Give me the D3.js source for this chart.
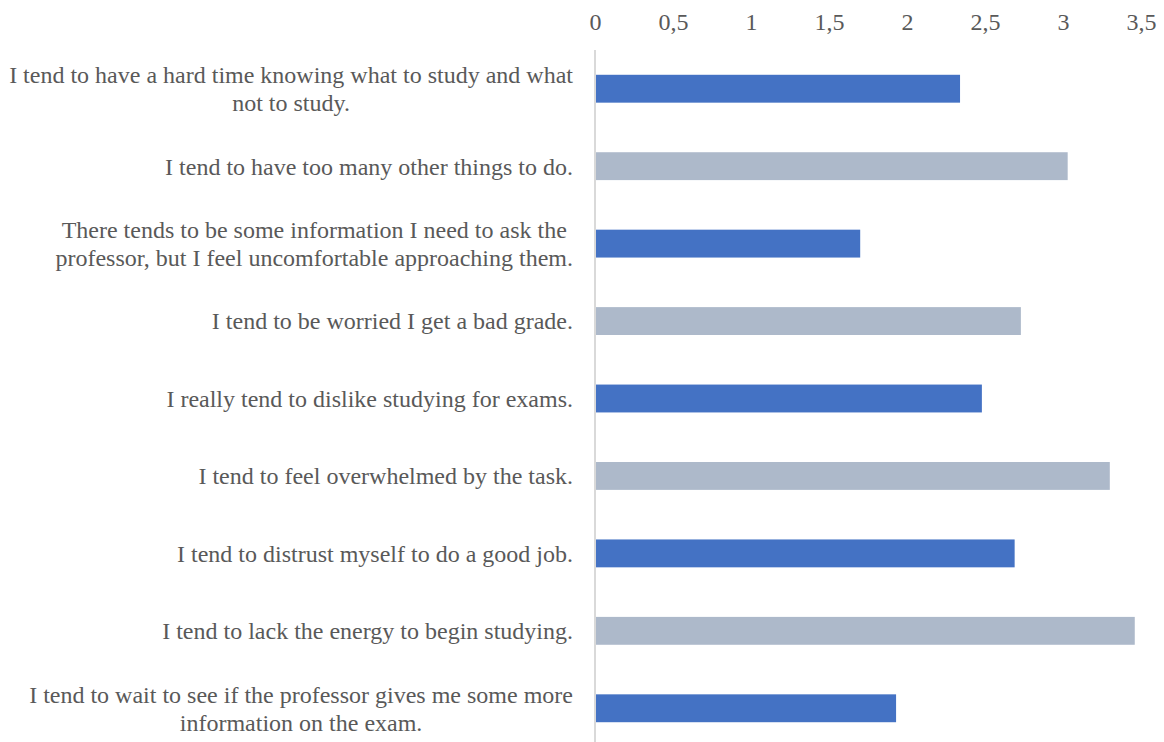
<!DOCTYPE html>
<html>
<head>
<meta charset="utf-8">
<script src="https://cdn.jsdelivr.net/npm/d3@7"></script>
<style>
  html, body { margin: 0; padding: 0; background: #ffffff; }
  svg { display: block; }
  text { font-family: "Liberation Serif", "Times New Roman", serif; fill: #595959; }
</style>
</head>
<body>
<svg id="chart" width="1164" height="742"></svg>
<script>
// Survey statements (top to bottom) and their mean scores
const categories = [
  "I tend to have a hard time knowing what to study and what not to study.",
  "I tend to have too many other things to do.",
  "There tends to be some information I need to ask the professor, but I feel uncomfortable approaching them.",
  "I tend to be worried I get a bad grade.",
  "I really tend to dislike studying for exams.",
  "I tend to feel overwhelmed by the task.",
  "I tend to distrust myself to do a good job.",
  "I tend to lack the energy to begin studying.",
  "I tend to wait to see if the professor gives me some more information on the exam."
];
const values = [2.34, 3.03, 1.70, 2.73, 2.48, 3.30, 2.69, 3.46, 1.93];
const tickValues = [0, 0.5, 1, 1.5, 2, 2.5, 3, 3.5];
const tickLabels = ["0", "0,5", "1", "1,5", "2", "2,5", "3", "3,5"];
const barColors = ["#4472C4", "#ADB9CA"];

const svg = d3.select("#chart");
const fontSize = 24;
const lineHeight = 28;
const labelRight = 573;
const labelMaxWidth = 566;

const x = d3.scaleLinear().domain([0, 3.5]).range([595, 1141]);
const y = d3.scaleBand()
  .domain(categories)
  .range([50, 747])
  .paddingInner(0.64)
  .paddingOuter(0.32);

// Top value axis: labels only, no domain line or tick marks
const xAxis = d3.axisTop(x)
  .tickValues(tickValues)
  .tickFormat((d, i) => tickLabels[i])
  .tickSize(0)
  .tickPadding(0);
const gx = svg.append("g").attr("transform", "translate(0,22)").call(xAxis);
gx.select(".domain").remove();
gx.selectAll("text")
  .style("font-family", '"Liberation Serif", "Times New Roman", serif')
  .style("font-size", fontSize + "px")
  .attr("fill", "#595959")
  .attr("dy", "0.35em");

// Bars
svg.append("g").selectAll("rect")
  .data(values)
  .join("rect")
  .attr("x", x(0))
  .attr("y", (d, i) => y(categories[i]))
  .attr("width", d => x(d) - x(0))
  .attr("height", y.bandwidth())
  .attr("fill", (d, i) => barColors[i % 2]);

// Category axis line
svg.append("line")
  .attr("x1", x(0)).attr("x2", x(0))
  .attr("y1", 50).attr("y2", 747)
  .attr("stroke", "#d9d9d9")
  .attr("stroke-width", 2);

// Category labels, word-wrapped and right-aligned
const labelGroup = svg.append("g");
categories.forEach(cat => {
  const cy = y(cat) + y.bandwidth() / 2;
  const t = labelGroup.append("text")
    .attr("text-anchor", "end")
    .style("font-size", fontSize + "px");
  const words = cat.split(" ");
  const lines = [];
  let current = [];
  const probe = t.append("tspan");
  words.forEach(w => {
    const trial = current.concat(w).join(" ");
    probe.text(trial);
    if (probe.node().getComputedTextLength() > labelMaxWidth && current.length) {
      lines.push(current.join(" "));
      current = [w];
    } else {
      current.push(w);
    }
  });
  lines.push(current.join(" "));
  probe.remove();
  const offset = -(lines.length - 1) * lineHeight / 2;
  lines.forEach((ln, k) => {
    t.append("tspan")
      .attr("x", labelRight)
      .attr("y", cy + offset + k * lineHeight)
      .attr("dy", "0.35em")
      .text(ln);
  });
  if (lines.length > 1) {
    // center the shorter lines like a centered text box
    const widths = [];
    t.selectAll("tspan").each(function () { widths.push(this.getComputedTextLength()); });
    const maxW = d3.max(widths);
    t.selectAll("tspan").each(function (d, k) {
      d3.select(this).attr("x", labelRight - (maxW - widths[k]) / 2);
    });
  }
});
</script>
</body>
</html>
